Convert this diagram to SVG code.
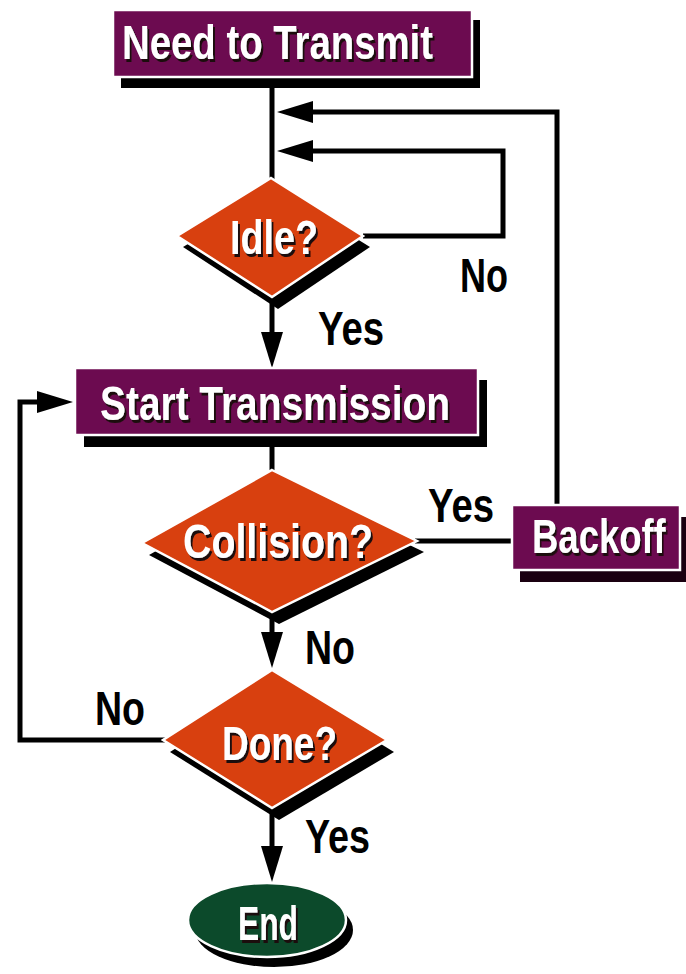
<svg xmlns="http://www.w3.org/2000/svg" width="686" height="974" viewBox="0 0 686 974">
<defs>
<style>
.shadow{fill:#000}
.box{fill:#6c0b50;stroke:#fff;stroke-width:2.5}
.dia{fill:#d8400f;stroke:#fff;stroke-width:2.5;stroke-linejoin:miter}
.ell{fill:#0c4a2b;stroke:#fff;stroke-width:2.5}
.t{font-family:"Liberation Sans Narrow","Liberation Sans",Arial,sans-serif;font-weight:bold;font-size:48px}
.tw{fill:#fff;filter:url(#tshadow)}
.lbl{fill:#000}
.c{fill:none;stroke:#000;stroke-width:5}
</style>
<filter id="tshadow" x="-10%" y="-20%" width="130%" height="150%">
<feDropShadow dx="2" dy="3" stdDeviation="0.6" flood-color="#1a0a10" flood-opacity="1"/>
</filter>
<marker id="ah" markerUnits="userSpaceOnUse" markerWidth="36" markerHeight="22" refX="10" refY="11" orient="auto">
<path d="M0,0 L36,11 L0,22 z" fill="#000"/>
</marker>
</defs>
<rect width="686" height="974" fill="#fff"/>

<g id="connectors">
<path class="c" d="M272,77 V180"/>
<path class="c" d="M557,507 V112 H303" marker-end="url(#ah)"/>
<path class="c" d="M363,236 H503 V151 H303" marker-end="url(#ah)"/>
<path class="c" d="M272,295 V342" marker-end="url(#ah)"/>
<path class="c" d="M272,435 V472"/>
<path class="c" d="M415,541 H514"/>
<path class="c" d="M272,610 V642" marker-end="url(#ah)"/>
<path class="c" d="M165,740 H20 V402 H47" marker-end="url(#ah)"/>
<path class="c" d="M272,806 V856" marker-end="url(#ah)"/>
</g>

<g id="need-to-transmit">
<rect class="shadow" x="121" y="20" width="359" height="68"/>
<rect class="box" x="113" y="10" width="359" height="67"/>
<text class="t tw" x="122" y="59" textLength="311" lengthAdjust="spacingAndGlyphs">Need to Transmit</text>
</g>

<g id="idle">
<polygon class="shadow" points="278,190 370,247 278,309 183,247"/>
<polygon class="dia" points="271,178 363,236 272,297 177,236"/>
<text class="t tw" x="230" y="254" textLength="88" lengthAdjust="spacingAndGlyphs">Idle?</text>
</g>
<text id="lbl-idle-no" class="t lbl" x="460" y="292" textLength="48" lengthAdjust="spacingAndGlyphs">No</text>
<text id="lbl-idle-yes" class="t lbl" x="318" y="345" textLength="66" lengthAdjust="spacingAndGlyphs">Yes</text>

<g id="start-transmission">
<rect class="shadow" x="84" y="380" width="403" height="67"/>
<rect class="box" x="75" y="368" width="403" height="67"/>
<text class="t tw" x="100" y="420" textLength="350" lengthAdjust="spacingAndGlyphs">Start Transmission</text>
</g>

<g id="collision">
<polygon class="shadow" points="279,482 424,552 279,624 149,555"/>
<polygon class="dia" points="272,470 417,541 272,612 142,543"/>
<text class="t tw" x="183" y="558" textLength="190" lengthAdjust="spacingAndGlyphs">Collision?</text>
</g>
<text id="lbl-collision-yes" class="t lbl" x="428" y="522" textLength="66" lengthAdjust="spacingAndGlyphs">Yes</text>
<text id="lbl-collision-no" class="t lbl" x="305" y="664" textLength="50" lengthAdjust="spacingAndGlyphs">No</text>

<g id="backoff">
<rect fill="#1a0010" x="520" y="517" width="166" height="65"/>
<rect class="box" x="512" y="505" width="168" height="65"/>
<text class="t tw" transform="translate(532,553) scale(0.76,1)" x="0" y="0">Backoff</text>
</g>

<g id="done">
<polygon class="shadow" points="279,682 394,752 279,820 170,752"/>
<polygon class="dia" points="272,670 387,740 272,808 163,740"/>
<text class="t tw" x="222" y="760" textLength="115" lengthAdjust="spacingAndGlyphs">Done?</text>
</g>
<text id="lbl-done-no" class="t lbl" x="95" y="725" textLength="50" lengthAdjust="spacingAndGlyphs">No</text>
<text id="lbl-done-yes" class="t lbl" x="305" y="853" textLength="65" lengthAdjust="spacingAndGlyphs">Yes</text>

<g id="end">
<ellipse class="shadow" cx="274" cy="930" rx="79" ry="37"/>
<ellipse class="ell" cx="267" cy="920" rx="79" ry="37"/>
<text class="t tw" x="238" y="940" textLength="60" lengthAdjust="spacingAndGlyphs">End</text>
</g>
</svg>
